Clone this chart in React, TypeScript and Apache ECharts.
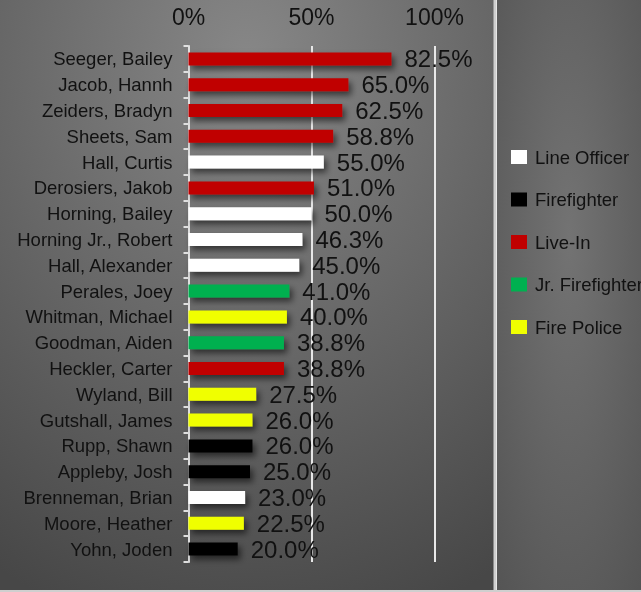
import React, { useEffect, useRef } from "react";
import * as echarts from "echarts";

const names = [
  "Seeger, Bailey", "Jacob, Hannh", "Zeiders, Bradyn", "Sheets, Sam", "Hall, Curtis",
  "Derosiers, Jakob", "Horning, Bailey", "Horning Jr., Robert", "Hall, Alexander", "Perales, Joey",
  "Whitman, Michael", "Goodman, Aiden", "Heckler, Carter", "Wyland, Bill", "Gutshall, James",
  "Rupp, Shawn", "Appleby, Josh", "Brenneman, Brian", "Moore, Heather", "Yohn, Joden",
];
const values = [82.5, 65.0, 62.5, 58.8, 55.0, 51.0, 50.0, 46.3, 45.0, 41.0, 40.0, 38.8, 38.8, 27.5, 26.0, 26.0, 25.0, 23.0, 22.5, 20.0];
const roles = [
  "Live-In", "Live-In", "Live-In", "Live-In", "Line Officer",
  "Live-In", "Line Officer", "Line Officer", "Line Officer", "Jr. Firefighter",
  "Fire Police", "Jr. Firefighter", "Live-In", "Fire Police", "Fire Police",
  "Firefighter", "Firefighter", "Line Officer", "Fire Police", "Firefighter",
];
const roleNames = ["Line Officer", "Firefighter", "Live-In", "Jr. Firefighter", "Fire Police"];
const roleColors = ["#ffffff", "#000000", "#c00000", "#00b050", "#f0ff00"];
const xTicks = [0, 50, 100];

const FONT = "'Liberation Sans', Arial, Helvetica, sans-serif";

export default function App() {
  const ref = useRef<HTMLDivElement>(null);
  useEffect(() => {
    if (!ref.current) return;
    const chart = echarts.init(ref.current, null, { renderer: "svg" });
    const series = roleNames.map((r, i) => ({
      name: r,
      type: "bar",
      stack: "all",
      barWidth: 13,
      itemStyle: {
        color: roleColors[i],
        shadowColor: "rgba(0,0,0,0.55)",
        shadowBlur: 6,
        shadowOffsetX: 3,
        shadowOffsetY: 4,
      },
      label: {
        show: true,
        position: "right",
        distance: 13,
        fontSize: 24,
        fontFamily: FONT,
        color: "#111111",
        formatter: (p: any) => Number(p.value).toFixed(1) + "%",
      },
      data: values.map((v, k) => (roles[k] === r ? v : "-")),
    }));
    chart.setOption({
      animation: false,
      backgroundColor: "transparent",
      graphic: [
        {
          type: "rect",
          z: -10,
          silent: true,
          shape: { x: 0, y: 0, width: 494, height: 590 },
          style: {
            fill: {
              type: "radial", x: 0.5, y: 0.1, r: 1.0,
              colorStops: [
                { offset: 0, color: "#878787" },
                { offset: 1, color: "#474747" },
              ],
            },
          },
        },
        {
          type: "rect",
          z: -10,
          silent: true,
          shape: { x: 497, y: 0, width: 144, height: 590 },
          style: {
            fill: {
              type: "radial", x: 0.5, y: 0.4, r: 1.0,
              colorStops: [
                { offset: 0, color: "#737373" },
                { offset: 1, color: "#4c4c4c" },
              ],
            },
          },
        },
        {
          type: "rect",
          z: -9,
          silent: true,
          shape: { x: 493.5, y: 0, width: 3, height: 592 },
          style: { fill: "#cfcfcf" },
        },
        {
          type: "rect",
          z: -9,
          silent: true,
          shape: { x: 0, y: 590, width: 641, height: 2 },
          style: { fill: "#cfcfcf" },
        },
      ],
      legend: {
        orient: "vertical",
        left: 506,
        top: 142,
        itemWidth: 16,
        itemHeight: 14,
        itemGap: 22.5,
        icon: "rect",
        data: roleNames,
        textStyle: {
          fontSize: 18.5,
          lineHeight: 20,
          fontFamily: FONT,
          color: "#111111",
          padding: [0, 0, 0, 3],
        },
      },
      grid: { left: 188.5, top: 46, width: 246, height: 516, containLabel: false },
      xAxis: {
        type: "value",
        position: "top",
        min: xTicks[0],
        max: xTicks[xTicks.length - 1],
        interval: 50,
        axisLine: { show: false },
        axisTick: { show: false },
        axisLabel: {
          margin: 18,
          fontSize: 23,
          fontFamily: FONT,
          color: "#111111",
          formatter: (v: number) => v + "%",
        },
        splitLine: {
          show: true,
          lineStyle: { color: "#e8e8e8", width: 2 },
        },
      },
      yAxis: {
        type: "category",
        inverse: true,
        data: names,
        axisLine: { show: true, lineStyle: { color: "#e0e0e0", width: 2 } },
        axisTick: { show: true, length: 5, lineStyle: { color: "#e0e0e0", width: 2 } },
        axisLabel: {
          margin: 16,
          fontSize: 18.5,
          fontFamily: FONT,
          color: "#111111",
        },
      },
      series,
    });
    return () => chart.dispose();
  }, []);
  return (
    <div
      ref={ref}
      style={{ position: "fixed", left: 0, top: 0, width: 641, height: 592 }}
    />
  );
}
